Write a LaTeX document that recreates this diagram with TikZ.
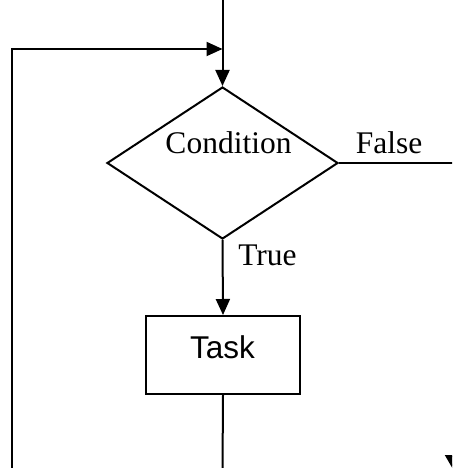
\documentclass[tikz,border=0pt]{standalone}
\usepackage{fontspec}
\setmainfont{Liberation Serif}
\newfontfamily\arialfont{Liberation Sans}
\usetikzlibrary{arrows.meta, positioning, shapes.geometric}

\begin{document}
\begin{tikzpicture}[x=1pt, y=-1pt, line width=2pt,
  flow/.style={-{Triangle[length=16pt,width=14pt]}},
  decision/.style={draw, diamond, inner sep=0pt, minimum width=231pt, minimum height=152pt},
  taskbox/.style={draw, rectangle, inner sep=0pt, minimum width=154pt, minimum height=78pt},
  txt/.style={font=\fontsize{31.5}{38}\selectfont, inner sep=0pt, anchor=base}]
\useasboundingbox (0,0) rectangle (452,468);
\clip (0,0) rectangle (452,468);

% decision and task
\node[decision] (cond) at (222.5,163) {};
\node[txt] (condtext) at (228.5,153) {Condition};
\node[taskbox] (task) at (223,355) {};
\node[txt, font=\arialfont\fontsize{31.5}{38}\selectfont] (tasktext) at (222.5,358) {Task};
\node[txt] (truetext) at (267.5,265) {True};
\node[txt] (falsetext) at (389,153) {False};

% free ends
\coordinate (entry) at (222.5,-2);
\coordinate (join) at (222.5,49);
\coordinate (back) at (12,470);
\coordinate (falseend) at (454,163);
\coordinate (falsedown) at (454,471);
\coordinate (taskout) at (222.5,470);

\draw[flow] (entry) -- (cond.north);
\draw[flow] (back) |- (join);
\draw[flow] (cond.south) -- (task.north);
\draw (task.south) -- (taskout);
\draw (cond.east) -- (falseend);
\draw[-{Triangle[length=16pt,width=18pt]}] (falseend) -- (falsedown);
\end{tikzpicture}
\end{document}
